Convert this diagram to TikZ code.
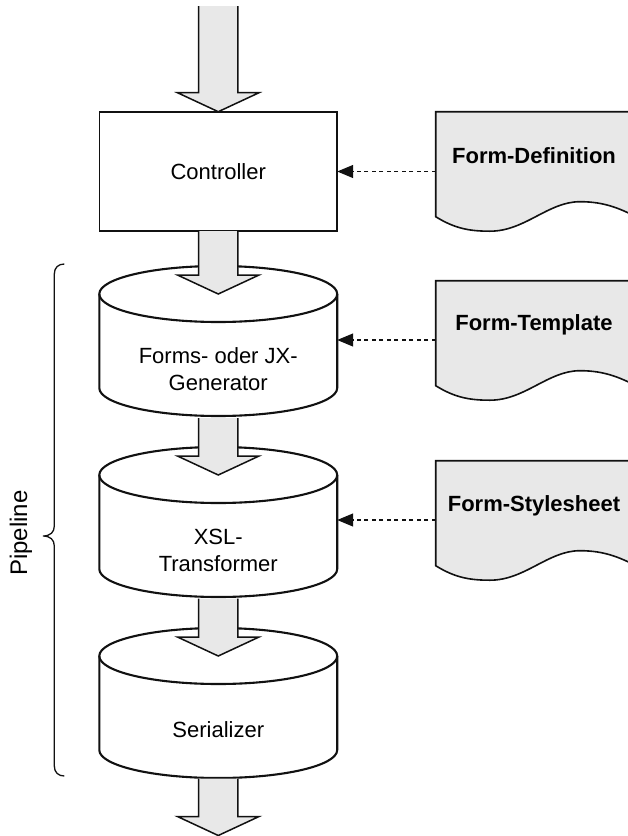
\documentclass[tikz,border=0pt]{standalone}
\usepackage{fontspec}
\setmainfont{Liberation Sans}
\usetikzlibrary{arrows.meta,calc}
\definecolor{shade}{HTML}{E8E8E8}
\definecolor{ink}{HTML}{111111}
\tikzset{
  ctrlbox/.style={draw=ink, line width=1.6pt, fill=white, minimum width=237.9pt, minimum height=119.3pt, inner sep=0pt, outer sep=0pt, font=\fontsize{22}{28}\selectfont},
  cyltext/.style={align=center, inner sep=0pt, font=\fontsize{22}{27}\selectfont},
  cylline/.style={draw=ink, line width=2.1pt},
  doctext/.style={inner sep=0pt, font=\fontsize{22}{28}\selectfont\bfseries},
  docshape/.style={draw=ink, line width=1.6pt, fill=shade},
  blockarrow/.style={draw=ink, line width=1.5pt, fill=shade, line join=miter},
  dasharrow/.style={draw=ink, line width=1.3pt, dash pattern=on 4pt off 3.5pt, -{Triangle[length=16pt,width=13pt]}},
  bracestyle/.style={draw=ink, line width=1.3pt},
}
\newcommand{\blkarrow}[2]{%
  \draw[blockarrow] let \p1=(#1), \p2=(#2) in
    (\x1-19.6pt,\y1) -- (\x1-19.6pt,\y2+19pt) -- (\x1-40.8pt,\y2+19pt) -- (\x2,\y2)
    -- (\x1+40.8pt,\y2+19pt) -- (\x1+19.6pt,\y2+19pt) -- (\x1+19.6pt,\y1);}
\newcommand{\cylshape}[1]{%
  \fill[white] (99.3,-#1) -- (99.3,-#1-94) arc[start angle=180,end angle=360,x radius=118.95,y radius=28]
    -- (337.2,-#1) arc[start angle=0,end angle=180,x radius=118.95,y radius=28] -- cycle;
  \draw[cylline] (99.3,-#1) -- (99.3,-#1-94) arc[start angle=180,end angle=360,x radius=118.95,y radius=28] -- (337.2,-#1);
  \draw[cylline] (218.25,-#1) ellipse[x radius=118.95,y radius=28];}
\newcommand{\docshape}[1]{%
  \draw[docshape] (435.7,-#1-105) .. controls (455,-#1-117) and (470,-#1-119.5) .. (490,-#1-119.5)
    .. controls (525,-#1-119.5) and (548,-#1-90) .. (580,-#1-90)
    .. controls (605,-#1-90) and (622,-#1-97) .. (645,-#1-110) -- (645,-#1) -- (435.7,-#1) -- cycle;}
\begin{document}
\begin{tikzpicture}[x=1pt,y=1pt]
\useasboundingbox (0,0) rectangle (628,-836);
\clip (0,0) rectangle (628,-836);

% documents
\docshape{111.7}
\docshape{280.7}
\docshape{460.7}
\node[doctext] (fdef) at (534,-155.7) {Form-Definition};
\node[doctext] (ftpl) at (534,-324.5) {Form-Template};
\node[doctext] (fsty) at (534,-505.5) {Form-Stylesheet};
\coordinate (fdefL) at (435.7,-171.5);
\coordinate (ftplL) at (435.7,-340);
\coordinate (fstyL) at (435.7,-520);

% controller
\node[ctrlbox] (ctrl) at (218.25,-171.35) {Controller};

% cylinders
\cylshape{294}
\cylshape{475}
\cylshape{656}
\node[cyltext] (gen) at (218.25,-369) {Forms- oder JX-\\Generator};
\node[cyltext] (xsl) at (218.25,-550) {XSL-\\Transformer};
\node[cyltext] (ser) at (218.25,-729.5) {Serializer};
\coordinate (genT) at (218.25,-294);
\coordinate (genB) at (218.25,-418);
\coordinate (genR) at (337.2,-294);
\coordinate (xslT) at (218.25,-475);
\coordinate (xslB) at (218.25,-598.5);
\coordinate (xslR) at (337.2,-475);
\coordinate (serT) at (218.25,-656);
\coordinate (serB) at (218.25,-778.5);
\coordinate (inp) at (218.25,-6);
\coordinate (outp) at (218.25,-835.5);

% block arrows
\blkarrow{inp}{ctrl.north}
\blkarrow{ctrl.south}{genT}
\blkarrow{genB}{xslT}
\blkarrow{xslB}{serT}
\blkarrow{serB}{outp}

% dashed connectors
\draw[dasharrow] (fdefL) -- (ctrl.east |- fdefL);
\draw[dasharrow] (ftplL) -- (genR |- ftplL);
\draw[dasharrow] (fstyL) -- (xslR |- fstyL);

% brace and label
\draw[bracestyle] (64.3,-264) .. controls (58.5,-264) and (54.3,-267.5) .. (54.3,-274)
  -- (54.3,-526) .. controls (54.3,-532) and (50.5,-536) .. (43,-536)
  .. controls (50.5,-536) and (54.3,-540) .. (54.3,-546)
  -- (54.3,-766) .. controls (54.3,-772.5) and (58.5,-776) .. (64.3,-776);
\node[rotate=90, inner sep=0pt, font=\fontsize{24}{28}\selectfont] (pipe) at (21,-533) {Pipeline};
\end{tikzpicture}
\end{document}
